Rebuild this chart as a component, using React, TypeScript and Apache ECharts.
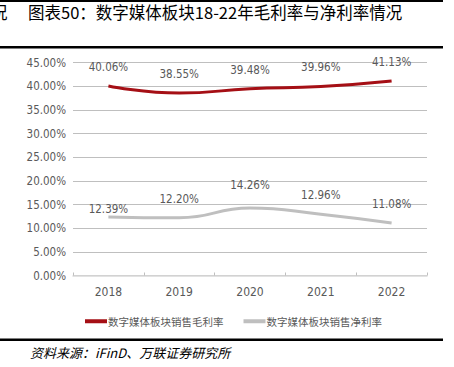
import React, { useEffect, useRef } from "react";
import * as echarts from "echarts";

const categories = ["2018", "2019", "2020", "2021", "2022"];
const grossMargin = [40.06, 38.55, 39.48, 39.96, 41.13];
const netMargin = [12.39, 12.2, 14.26, 12.96, 11.08];
const netLabelDistance = [2, 13, 17, 13, 13];
const seriesNames = ["数字媒体板块销售毛利率", "数字媒体板块销售净利率"];
const title = "图表50：数字媒体板块18-22年毛利率与净利率情况";
const source = "资料来源：iFinD、万联证券研究所";

const NARROW = "'Liberation Sans Narrow', 'DejaVu Sans Condensed', 'Roboto Condensed', Arial, sans-serif";
const CJK = "'Noto Sans CJK SC', sans-serif";

export default function App() {
  const ref = useRef<HTMLDivElement>(null);
  useEffect(() => {
    document.body.style.margin = "0";
    const chart = echarts.init(ref.current!, null, { renderer: "svg" });
    const labelStyle = {
      show: true,
      position: "top" as const,
      color: "#595959",
      fontSize: 11.5,
      fontFamily: NARROW,
      formatter: (p: any) => Number(p.value).toFixed(2) + "%",
    };
    chart.setOption({
      animation: false,
      backgroundColor: "#ffffff",
      grid: { left: 73, right: 27, top: 62.6, bottom: 91.5, containLabel: false },
      xAxis: {
        type: "category",
        data: categories,
        boundaryGap: true,
        axisLine: { lineStyle: { color: "#D9D9D9", width: 1.5 } },
        axisTick: { show: true, inside: true, length: 3, lineStyle: { color: "#BFBFBF" } },
        axisLabel: { color: "#595959", fontSize: 12, fontFamily: NARROW, margin: 10 },
      },
      yAxis: {
        type: "value",
        min: 0,
        max: 45,
        interval: 5,
        axisLine: { show: false },
        axisTick: { show: false },
        axisLabel: {
          color: "#595959",
          fontSize: 11.5,
          fontFamily: NARROW,
          margin: 7,
          formatter: (v: number) => v.toFixed(2) + "%",
        },
        splitLine: { lineStyle: { color: "#BFBFBF", width: 1.2 } },
      },
      legend: {
        left: 80,
        top: 311,
        itemWidth: 22,
        itemHeight: 4,
        itemGap: 20,
        icon: "rect",
        textStyle: { color: "#595959", fontSize: 10.5, fontFamily: CJK, padding: [0, 0, 0, -4] },
        data: seriesNames,
      },
      series: [
        {
          name: seriesNames[0],
          type: "line",
          smooth: true,
          symbol: "circle",
          symbolSize: 0,
          showSymbol: true,
          data: grossMargin,
          lineStyle: { color: "#A50F15", width: 3 },
          itemStyle: { color: "#A50F15" },
          label: { ...labelStyle, distance: 13 },
        },
        {
          name: seriesNames[1],
          type: "line",
          smooth: true,
          symbol: "circle",
          symbolSize: 0,
          showSymbol: true,
          data: netMargin.map((v, i) => ({ value: v, label: { distance: netLabelDistance[i] } })),
          lineStyle: { color: "#BFBFBF", width: 3 },
          itemStyle: { color: "#BFBFBF" },
          label: { ...labelStyle, distance: 13 },
        },
      ],
      graphic: [
        { type: "rect", left: 0, top: 0, shape: { width: 443, height: 2 }, style: { fill: "#000" } },
        { type: "rect", left: 0, top: 46, shape: { width: 443, height: 2.5 }, style: { fill: "#000" } },
        { type: "rect", left: 0, top: 338.5, shape: { width: 443, height: 2.5 }, style: { fill: "#000" } },
        {
          type: "text",
          x: 28,
          y: 12,
          style: { text: title, fontSize: 16.5, fontFamily: CJK, fill: "#000", verticalAlign: "middle" },
        },
        {
          type: "text",
          x: -9,
          y: 12,
          style: { text: "况", fontSize: 16.5, fontFamily: CJK, fill: "#000", verticalAlign: "middle" },
        },
        {
          type: "text",
          x: 30,
          y: 352,
          style: {
            text: source,
            fontSize: 13,
            fontFamily: CJK,
            fontStyle: "italic",
            fill: "#000",
            verticalAlign: "middle",
          },
        },
      ],
    });
    return () => chart.dispose();
  }, []);
  return <div ref={ref} style={{ width: 454, height: 367 }} />;
}
